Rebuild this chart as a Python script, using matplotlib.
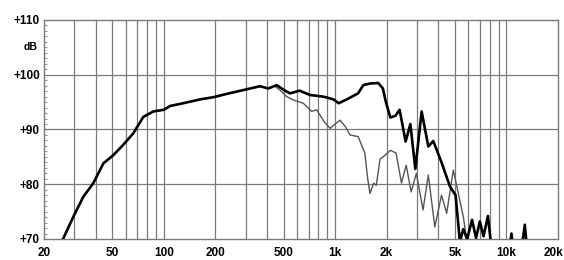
import matplotlib
matplotlib.use('Agg')
import matplotlib.pyplot as plt
from matplotlib.ticker import FixedLocator, NullFormatter
from matplotlib.transforms import ScaledTranslation

# ---- data ----
on_axis_freq = [20, 24, 26, 29.7, 33.9, 38.8, 44.4, 50.7, 58, 66.4, 76, 87, 100,
                109, 130, 163, 195, 233, 291, 364, 408, 456, 510, 546, 620, 714,
                856, 978, 1050, 1170, 1362, 1460, 1598, 1786, 1900, 1980, 2100,
                2250, 2380, 2580, 2750, 2940, 3200, 3500, 3740, 4180, 4680, 5050,
                5350, 5600, 5900, 6300, 6650, 7000, 7350, 7800, 8200, 9000, 10200,
                10700, 11100, 12000, 12800, 13400, 15000, 20000]
on_axis_db = [63, 68, 70.2, 74.1, 77.7, 80.2, 83.8, 85.3, 87.2, 89.3, 92.3, 93.3, 93.6,
              94.3, 94.8, 95.5, 95.9, 96.5, 97.2, 97.9, 97.5, 98.1, 97.1, 96.6, 97.1, 96.3,
              96.0, 95.5, 94.8, 95.5, 96.6, 98.1, 98.4, 98.5, 97.5, 95.0, 92.2,
              92.5, 93.6, 87.8, 91.0, 82.8, 93.3, 86.9, 87.9, 84.0, 79.6, 78.0,
              69.5, 71.8, 70.0, 73.5, 70.2, 73.2, 70.5, 74.2, 68, 65, 66,
              71.0, 67, 66, 72.6, 66, 62, 60]

off_axis_freq = [450, 477, 522, 570, 652, 730, 780, 860, 936, 1000, 1070, 1150, 1222,
                 1362, 1492, 1550, 1598, 1678, 1740, 1830, 1960, 2100, 2270, 2440,
                 2600, 2780, 2980, 3260, 3500, 3820, 4180, 4480, 4900, 5240, 5600,
                 5850, 6100]
off_axis_db = [97.8, 97.2, 96.0, 95.4, 94.8, 93.3, 93.6, 91.5, 90.2, 91.0, 91.7, 90.5, 89.0,
               88.7, 85.7, 81.0, 78.3, 80.2, 79.8, 84.6, 85.3, 86.2, 85.7, 80.2,
               83.5, 78.6, 82.0, 75.3, 81.7, 72.2, 78.0, 74.7, 82.6, 78.3, 74.1,
               70.0, 67]

x_ticks = [20, 50, 100, 200, 500, 1000, 2000, 5000, 10000, 20000]
x_labels = ['20', '50', '100', '200', '500', '1k', '2k', '5k', '10k', '20k']
y_ticks = [70, 80, 90, 100, 110]
y_labels = ['+70', '+80', '+90', '+100', '+110']

grid_x = list(range(30, 101, 10)) + list(range(200, 1001, 100)) + list(range(2000, 10001, 1000))

plt.rcParams['font.family'] = ['Liberation Sans', 'DejaVu Sans']

fig = plt.figure(figsize=(5.64, 2.6), dpi=100)
ax = fig.add_axes([44 / 564, 21 / 260, 514 / 564, 219 / 260])

grid_color = '#7a7a7a'
for gx in grid_x:
    ax.axvline(gx, color=grid_color, lw=0.9, zorder=1)
for gy in [80, 90, 100]:
    ax.axhline(gy, color=grid_color, lw=0.9, zorder=1)

ax.plot(off_axis_freq, off_axis_db, color='#555555', lw=1.0, zorder=2)
ax.plot(on_axis_freq, on_axis_db, color='black', lw=1.9, zorder=3)

ax.set_xscale('log')
ax.set_xlim(20, 20000)
ax.set_ylim(70, 110)

ax.xaxis.set_major_locator(FixedLocator(x_ticks))
ax.xaxis.set_minor_locator(FixedLocator([]))
ax.xaxis.set_minor_formatter(NullFormatter())
ax.set_xticklabels(x_labels)
ax.set_yticks(y_ticks)
ax.set_yticklabels(y_labels)
ax.yaxis.set_minor_locator(FixedLocator(range(70, 111)))

ax.tick_params(axis='x', which='both', length=0, pad=6, labelsize=8.5)
ax.tick_params(axis='y', which='major', length=0, pad=3, labelsize=8.5)
ax.tick_params(axis='y', which='minor', direction='in', length=2.5, width=0.6,
               color=grid_color)
for lbl in ax.get_xticklabels() + ax.get_yticklabels():
    lbl.set_fontweight('bold')

# keep the last label inside the picture
last = ax.get_xticklabels()[-1]
last.set_horizontalalignment('right')
last.set_transform(last.get_transform() + ScaledTranslation(5 / 100, 0, fig.dpi_scale_trans))

for sp in ax.spines.values():
    sp.set_color(grid_color)
    sp.set_linewidth(1.0)

fig.text(38 / 564, 1 - 47 / 260, 'dB', ha='right', va='center',
         fontsize=7.5, fontweight='bold')

fig.savefig('out.png', dpi=100)
